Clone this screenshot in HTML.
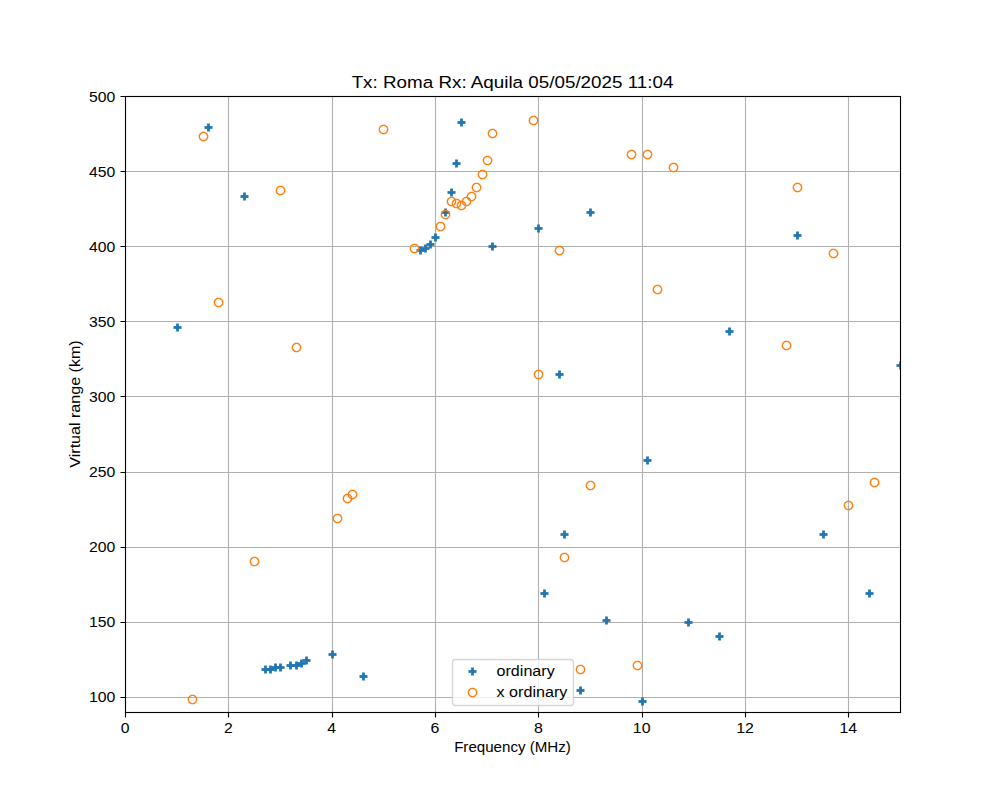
<!DOCTYPE html>
<html lang="en"><head><meta charset="utf-8"><title>Tx: Roma Rx: Aquila 05/05/2025 11:04</title>
<style>
html,body{margin:0;padding:0;background:#fff;font-family:"Liberation Sans",sans-serif;overflow:hidden}
svg{display:block;width:1000px;height:800px}
.t text{font-family:"Liberation Sans",sans-serif;white-space:pre}
</style></head><body>
<svg width="1000" height="800" viewBox="0 0 1000 800" role="img" aria-label="Scatter plot: Tx: Roma Rx: Aquila 05/05/2025 11:04">
<rect width="1000" height="800" fill="#fff"/>
<clipPath id="ax"><rect x="125" y="96" width="775" height="616"/></clipPath>
<defs><path id="c" d="M4.861 0L4.82 0.635L4.695 1.258L4.491 1.86L4.21 2.431L3.857 2.959L3.437 3.437L2.959 3.857L2.431 4.21L1.86 4.491L1.258 4.695L0.635 4.82L0 4.861L-0.635 4.82L-1.258 4.695L-1.86 4.491L-2.431 4.21L-2.959 3.857L-3.437 3.437L-3.857 2.959L-4.21 2.431L-4.491 1.86L-4.695 1.258L-4.82 0.635L-4.861 0L-4.82 -0.635L-4.695 -1.258L-4.491 -1.86L-4.21 -2.431L-3.857 -2.959L-3.437 -3.437L-2.959 -3.857L-2.431 -4.21L-1.86 -4.491L-1.258 -4.695L-0.635 -4.82L0 -4.861L0.635 -4.82L1.258 -4.695L1.86 -4.491L2.431 -4.21L2.959 -3.857L3.437 -3.437L3.857 -2.959L4.21 -2.431L4.491 -1.86L4.695 -1.258L4.82 -0.635ZM3.443 -0.453L3.354 -0.899L3.208 -1.329L3.007 -1.736L2.755 -2.114L2.455 -2.455L2.114 -2.755L1.736 -3.007L1.329 -3.208L0.899 -3.354L0.453 -3.443L0 -3.472L-0.453 -3.443L-0.899 -3.354L-1.329 -3.208L-1.736 -3.007L-2.114 -2.755L-2.455 -2.455L-2.755 -2.114L-3.007 -1.736L-3.208 -1.329L-3.354 -0.899L-3.443 -0.453L-3.472 0L-3.443 0.453L-3.354 0.899L-3.208 1.329L-3.007 1.736L-2.755 2.114L-2.455 2.455L-2.114 2.755L-1.736 3.007L-1.329 3.208L-0.899 3.354L-0.453 3.443L0 3.472L0.453 3.443L0.899 3.354L1.329 3.208L1.736 3.007L2.114 2.755L2.455 2.455L2.755 2.114L3.007 1.736L3.208 1.329L3.354 0.899L3.443 0.453L3.472 0Z"/><g id="p"><rect x="-4" y="-1.389" width="8" height="2.778"/><rect x="-1.389" y="-4" width="2.778" height="8"/></g></defs>
<g clip-path="url(#ax)">
<path d="M125.5 95 V713M228.5 95 V713M332.5 95 V713M435.5 95 V713M538.5 95 V713M642.5 95 V713M745.5 95 V713M848.5 95 V713M124 697.5 H901M124 622.5 H901M124 547.5 H901M124 472.5 H901M124 396.5 H901M124 321.5 H901M124 246.5 H901M124 171.5 H901M124 96.5 H901" stroke="#b0b0b0" stroke-width="1.111" fill="none"/>
<g fill="#1f77b4"><use href="#p" x="177.5" y="327.5"/><use href="#p" x="208.5" y="127.5"/><use href="#p" x="244.5" y="196.5"/><use href="#p" x="265.5" y="669.5"/><use href="#p" x="270.5" y="669.5"/><use href="#p" x="275.5" y="667.5"/><use href="#p" x="280.5" y="667.5"/><use href="#p" x="290.5" y="665.5"/><use href="#p" x="296.5" y="665.5"/><use href="#p" x="301.5" y="663.5"/><use href="#p" x="306.5" y="660.5"/><use href="#p" x="332.5" y="654.5"/><use href="#p" x="363.5" y="676.5"/><use href="#p" x="420.5" y="250.5"/><use href="#p" x="425.5" y="248.5"/><use href="#p" x="430.5" y="244.5"/><use href="#p" x="435.5" y="237.5"/><use href="#p" x="445.5" y="212.5"/><use href="#p" x="451.5" y="192.5"/><use href="#p" x="456.5" y="163.5"/><use href="#p" x="461.5" y="122.5"/><use href="#p" x="492.5" y="246.5"/><use href="#p" x="538.5" y="228.5"/><use href="#p" x="559.5" y="374.5"/><use href="#p" x="564.5" y="534.5"/><use href="#p" x="544.5" y="593.5"/><use href="#p" x="580.5" y="690.5"/><use href="#p" x="590.5" y="212.5"/><use href="#p" x="606.5" y="620.5"/><use href="#p" x="642.5" y="701.5"/><use href="#p" x="647.5" y="460.5"/><use href="#p" x="688.5" y="622.5"/><use href="#p" x="719.5" y="636.5"/><use href="#p" x="729.5" y="331.5"/><use href="#p" x="797.5" y="235.5"/><use href="#p" x="823.5" y="534.5"/><use href="#p" x="869.5" y="593.5"/><use href="#p" x="900.5" y="365.5"/></g>
<g fill="#ff7f0e"><use href="#c" x="192.5" y="699.5"/><use href="#c" x="203.5" y="136.5"/><use href="#c" x="218.5" y="302.5"/><use href="#c" x="254.5" y="561.5"/><use href="#c" x="280.5" y="190.5"/><use href="#c" x="296.5" y="347.5"/><use href="#c" x="337.5" y="518.5"/><use href="#c" x="347.5" y="498.5"/><use href="#c" x="352.5" y="494.5"/><use href="#c" x="383.5" y="129.5"/><use href="#c" x="414.5" y="248.5"/><use href="#c" x="440.5" y="226.5"/><use href="#c" x="445.5" y="214.5"/><use href="#c" x="451.5" y="201.5"/><use href="#c" x="456.5" y="203.5"/><use href="#c" x="461.5" y="205.5"/><use href="#c" x="466.5" y="201.5"/><use href="#c" x="471.5" y="196.5"/><use href="#c" x="476.5" y="187.5"/><use href="#c" x="482.5" y="174.5"/><use href="#c" x="487.5" y="160.5"/><use href="#c" x="492.5" y="133.5"/><use href="#c" x="533.5" y="120.5"/><use href="#c" x="538.5" y="374.5"/><use href="#c" x="559.5" y="250.5"/><use href="#c" x="564.5" y="557.5"/><use href="#c" x="580.5" y="669.5"/><use href="#c" x="590.5" y="485.5"/><use href="#c" x="631.5" y="154.5"/><use href="#c" x="647.5" y="154.5"/><use href="#c" x="657.5" y="289.5"/><use href="#c" x="673.5" y="167.5"/><use href="#c" x="637.5" y="665.5"/><use href="#c" x="786.5" y="345.5"/><use href="#c" x="797.5" y="187.5"/><use href="#c" x="833.5" y="253.5"/><use href="#c" x="848.5" y="505.5"/><use href="#c" x="874.5" y="482.5"/></g>
</g>
<path d="M125.5 712.5 V717.5M228.5 712.5 V717.5M332.5 712.5 V717.5M435.5 712.5 V717.5M538.5 712.5 V717.5M642.5 712.5 V717.5M745.5 712.5 V717.5M848.5 712.5 V717.5M125.5 697.5 H120.5M125.5 622.5 H120.5M125.5 547.5 H120.5M125.5 472.5 H120.5M125.5 396.5 H120.5M125.5 321.5 H120.5M125.5 246.5 H120.5M125.5 171.5 H120.5M125.5 96.5 H120.5" stroke="#000" stroke-width="1.111" fill="none"/>
<rect x="125.5" y="96.5" width="775" height="616" fill="none" stroke="#000" stroke-width="1.111"/>
<path d="M455.5 705.5 H570.5 Q573.5 705.5 573.5 702.5 V662.5 Q573.5 659.5 570.5 659.5 H455.5 Q452.5 659.5 452.5 662.5 V702.5 Q452.5 705.5 455.5 705.5 Z" fill="#fff" fill-opacity="0.8" stroke="#ccc" stroke-opacity="0.8" stroke-width="1.389"/>
<use href="#p" x="472.5" y="671.5" fill="#1f77b4"/>
<use href="#c" x="472.5" y="692.5" fill="#ff7f0e"/>
<g class="t" fill="#000">
<text x="120.625" y="732.722" font-size="13.889" textLength="8.75" lengthAdjust="spacingAndGlyphs">0</text>
<text x="223.958" y="732.722" font-size="13.889" textLength="8.75" lengthAdjust="spacingAndGlyphs">2</text>
<text x="327.292" y="732.722" font-size="13.889" textLength="8.75" lengthAdjust="spacingAndGlyphs">4</text>
<text x="430.562" y="732.722" font-size="13.889" textLength="8.875" lengthAdjust="spacingAndGlyphs">6</text>
<text x="533.896" y="732.722" font-size="13.889" textLength="8.875" lengthAdjust="spacingAndGlyphs">8</text>
<text x="632.854" y="732.722" font-size="13.889" textLength="17.625" lengthAdjust="spacingAndGlyphs">10</text>
<text x="736.188" y="732.722" font-size="13.889" textLength="17.625" lengthAdjust="spacingAndGlyphs">12</text>
<text x="839.521" y="732.722" font-size="13.889" textLength="17.625" lengthAdjust="spacingAndGlyphs">14</text>
<text x="454.125" y="752.278" font-size="13.889" textLength="116.75" lengthAdjust="spacingAndGlyphs">Frequency (MHz)</text>
<text x="88.903" y="702.476" font-size="13.889" textLength="26.375" lengthAdjust="spacingAndGlyphs">100</text>
<text x="88.903" y="627.354" font-size="13.889" textLength="26.375" lengthAdjust="spacingAndGlyphs">150</text>
<text x="89.028" y="552.232" font-size="13.889" textLength="26.25" lengthAdjust="spacingAndGlyphs">200</text>
<text x="89.028" y="477.11" font-size="13.889" textLength="26.25" lengthAdjust="spacingAndGlyphs">250</text>
<text x="89.028" y="401.988" font-size="13.889" textLength="26.25" lengthAdjust="spacingAndGlyphs">300</text>
<text x="89.028" y="326.866" font-size="13.889" textLength="26.25" lengthAdjust="spacingAndGlyphs">350</text>
<text x="89.028" y="251.744" font-size="13.889" textLength="26.25" lengthAdjust="spacingAndGlyphs">400</text>
<text x="89.028" y="176.622" font-size="13.889" textLength="26.25" lengthAdjust="spacingAndGlyphs">450</text>
<text x="89.028" y="101.5" font-size="13.889" textLength="26.25" lengthAdjust="spacingAndGlyphs">500</text>
<text x="80.347" y="467.688" font-size="13.889" textLength="127.375" lengthAdjust="spacingAndGlyphs" transform="rotate(-90 80.347 467.688)">Virtual range (km)</text>
<text x="351.625" y="87.667" font-size="16.667" textLength="321.75" lengthAdjust="spacingAndGlyphs">Tx: Roma Rx: Aquila 05/05/2025 11:04</text>
<text x="496.569" y="675.556" font-size="13.889" textLength="58.125" lengthAdjust="spacingAndGlyphs">ordinary</text>
<text x="496.569" y="696.5" font-size="13.889" textLength="70.75" lengthAdjust="spacingAndGlyphs">x ordinary</text>
</g>
</svg>
</body></html>
